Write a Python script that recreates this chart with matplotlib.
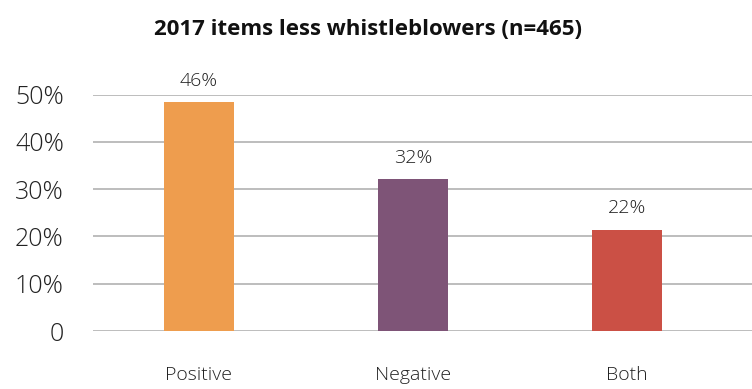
import matplotlib.pyplot as plt
from matplotlib.ticker import FuncFormatter

categories = ['Positive', 'Negative', 'Both']
shares = [0.484, 0.321, 0.214]
bar_labels = ['46%', '32%', '22%']
colors = ['#EE9D4E', '#7E5477', '#CB5045']
yticks = [0, 0.1, 0.2, 0.3, 0.4, 0.5]

plt.rcParams['font.family'] = ['Open Sans', 'DejaVu Sans']
text_color = '#222222'

fig = plt.figure(figsize=(7.52, 3.89), dpi=100)
ax = fig.add_axes([0.1237, 0.149, 0.8763, 0.6077])

x = range(len(categories))
bars = ax.bar(x, shares, width=0.327, color=colors, zorder=3)

for b, lab in zip(bars, bar_labels):
    ax.annotate(lab, (b.get_x() + b.get_width() / 2, b.get_height()),
                xytext=(0, 9), textcoords='offset points',
                ha='center', va='bottom', fontsize=14, fontweight='light',
                color=text_color)

ax.set_xlim(-0.495, 2.585)
ax.set_ylim(0, 0.5)
ax.set_yticks(yticks)
ax.yaxis.set_major_formatter(FuncFormatter(lambda v, p: '0' if v == 0 else f'{v*100:.0f}%'))
ax.set_xticks(list(x))
ax.set_xticklabels(categories)
ax.grid(axis='y', color='#BDBDBD', linewidth=1.4, zorder=0)
for s in ax.spines.values():
    s.set_visible(False)
ax.tick_params(axis='y', length=0, pad=21, labelsize=18, labelcolor=text_color)
ax.tick_params(axis='x', length=0, pad=25, labelsize=14, labelcolor=text_color)
for t in ax.get_xticklabels() + ax.get_yticklabels():
    t.set_fontweight('light')

fig.text(0.49, 0.925, '2017 items less whistleblowers (n=465)', ha='center', va='center',
         fontsize=16, fontweight='bold', color='#111111')

fig.savefig('out.png', dpi=100)
